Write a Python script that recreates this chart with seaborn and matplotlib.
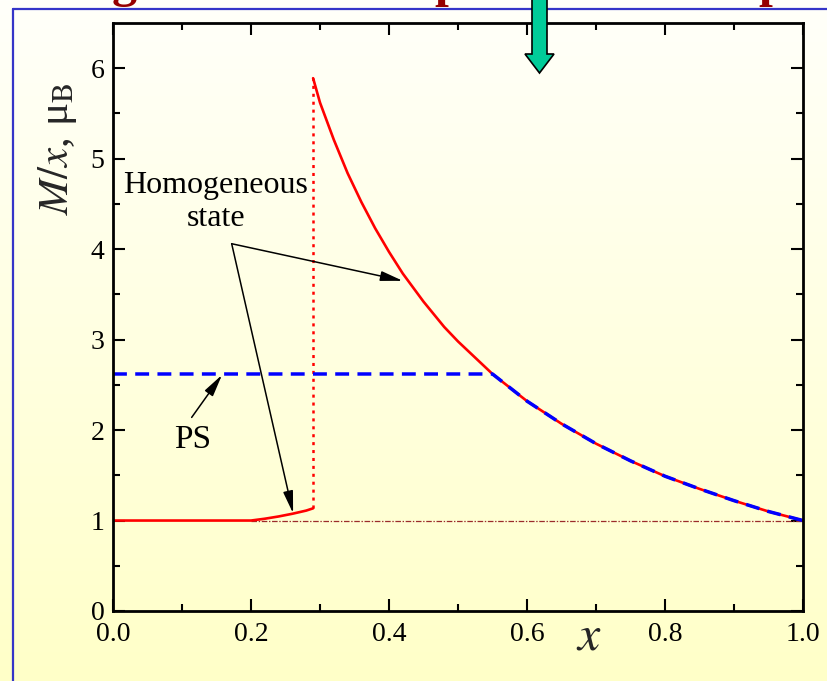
import numpy as np
import matplotlib
matplotlib.use("Agg")
import matplotlib.pyplot as plt
import seaborn as sns
from matplotlib.lines import Line2D
from matplotlib.patches import Polygon

# ---------------- data ----------------
low_x = [0.00, 0.05, 0.10, 0.15, 0.20, 0.22, 0.24, 0.26, 0.28, 0.29]
low_y = [1.00, 1.00, 1.00, 1.00, 1.00, 1.02, 1.045, 1.075, 1.11, 1.135]

high_x = [0.29, 0.30, 0.32, 0.34, 0.36, 0.38, 0.40, 0.42, 0.45, 0.48, 0.50,
          0.55, 0.60, 0.65, 0.70, 0.75, 0.80, 0.85, 0.90, 0.95, 1.00]
high_y = [5.89, 5.62, 5.21, 4.84, 4.52, 4.23, 3.97, 3.73, 3.42, 3.14, 2.98,
          2.62, 2.32, 2.07, 1.85, 1.66, 1.49, 1.35, 1.22, 1.10, 1.00]

jump_x = [0.29, 0.29]
jump_y = [1.135, 5.89]

ps_level = 2.62
ps_start = 0.55
ps_x = [0.0] + [x for x in high_x if x >= ps_start]
ps_y = [ps_level] + [y for x, y in zip(high_x, high_y) if x >= ps_start]

ref_x = [0.20, 1.00]
ref_y = [1.00, 1.00]

x_ticks = [0.0, 0.2, 0.4, 0.6, 0.8, 1.0]
x_ticklabels = ["0.0", "0.2", "0.4", "0.6", "0.8", "1.0"]
y_ticks = [0, 1, 2, 3, 4, 5, 6]
y_ticklabels = ["0", "1", "2", "3", "4", "5", "6"]

# ---------------- style ----------------
sns.set_theme(style="ticks")
plt.rcParams["font.family"] = ["Liberation Serif", "DejaVu Serif"]
plt.rcParams["mathtext.fontset"] = "stix"
plt.rcParams["lines.scale_dashes"] = False

W, H = 827, 681
fig = plt.figure(figsize=(W / 100, H / 100), dpi=100)

# gradient background
bg = fig.add_axes([0, 0, 1, 1], zorder=-10)
grad = np.linspace(0, 1, 256)[:, None]
top = np.array([255, 255, 250]) / 255.0
bot = np.array([255, 255, 200]) / 255.0
img = top[None, None, :] * (1 - grad[..., None]) + bot[None, None, :] * grad[..., None]
bg.imshow(img, aspect="auto", extent=[0, 1, 0, 1], origin="upper")
bg.set_axis_off()

def px(xp, yp):
    return (xp / W, 1 - yp / H)

# blue slide border (left and top edges)
border_c = "#3535C8"
fig.add_artist(Line2D([13 / W, 13 / W], [0, 1 - 9 / H], color=border_c, lw=1.6,
                      transform=fig.transFigure))
fig.add_artist(Line2D([13 / W, 1], [1 - 9 / H, 1 - 9 / H], color=border_c, lw=1.6,
                      transform=fig.transFigure))

# remnants of the slide title (only descenders are visible)
for ch, xp in [("g", 124), ("p", 448), ("p", 772)]:
    fig.text(xp / W, 1 - 7 / H, ch, ha="center", va="bottom", fontsize=36,
             color="#960000", fontweight="bold")

ax = fig.add_axes([113 / W, 1 - 611 / H, 690 / W, 588 / H])
ax.set_facecolor("none")

red = "#FF0000"
sns.lineplot(x=ref_x, y=ref_y, ax=ax, color="#9B2B2B", lw=0.9,
             linestyle=(0, (4, 1.2, 1, 1.2)), sort=False, estimator=None)
sns.lineplot(x=low_x, y=low_y, ax=ax, color=red, lw=1.9, sort=False, estimator=None)
sns.lineplot(x=high_x, y=high_y, ax=ax, color=red, lw=1.9, sort=False, estimator=None)
sns.lineplot(x=jump_x, y=jump_y, ax=ax, color=red, lw=1.8,
             linestyle=(0, (2.2, 3.5)), sort=False, estimator=None)
sns.lineplot(x=ps_x, y=ps_y, ax=ax, color="#0000FF", lw=2.5,
             linestyle=(0, (10, 6)), sort=False, estimator=None)

ax.set_xlim(0, 1)
ax.set_ylim(0, 6.5)
ax.set_xticks(x_ticks)
ax.set_xticklabels(x_ticklabels)
ax.set_yticks(y_ticks)
ax.set_yticklabels(y_ticklabels)
ax.set_xticks(np.arange(0.1, 1.0, 0.2), minor=True)
ax.set_yticks(np.arange(0.5, 6.5, 1.0), minor=True)
ax.tick_params(which="both", direction="in", top=True, right=True,
               colors="black", labelsize=20, width=1.5)
ax.tick_params(which="major", length=8.5)
ax.tick_params(axis="x", which="major", pad=8)
ax.tick_params(axis="y", which="major", pad=6)
ax.tick_params(which="minor", length=5)
for s in ax.spines.values():
    s.set_linewidth(2.0)
    s.set_color("black")

ax.set_xlabel(r"$x$", fontsize=36)
ax.xaxis.set_label_coords(0.69, -0.045)
ax.xaxis.label.set_va("center")
ax.set_ylabel(r"$M/x$, μ$_\mathrm{B}$", fontsize=31)
ax.yaxis.set_label_coords(-0.081, 0.787)
ax.yaxis.label.set_va("center")

# annotations
ax.text(0.149, 4.52, "Homogeneous\nstate", ha="center", va="center",
        fontsize=23, linespacing=1.2, color="black")
vertex = (0.172, 4.06)
arrow_kw = dict(arrowstyle="-|>,head_length=0.9,head_width=0.2", lw=1.1,
                color="black", shrinkA=0, shrinkB=0, mutation_scale=15)
ax.annotate("", xy=(0.420, 3.65), xytext=vertex, arrowprops=arrow_kw)
ax.annotate("", xy=(0.261, 1.08), xytext=vertex, arrowprops=arrow_kw)
ax.text(0.115, 1.89, "PS", ha="center", va="center", fontsize=24, color="black")
ax.annotate("", xy=(0.158, 2.61), xytext=(0.114, 2.14), arrowprops=arrow_kw)

# green arrow at the top (slide decoration)
arrow_pts = [px(532, -2), px(547, -2), px(547, 54), px(554, 54), px(539.5, 73),
             px(525, 54), px(532, 54)]
fig.add_artist(Polygon(arrow_pts, closed=True, facecolor="#00CC99",
                       edgecolor="black", lw=1.2, transform=fig.transFigure,
                       zorder=20))

fig.savefig("out.png", dpi=100)
